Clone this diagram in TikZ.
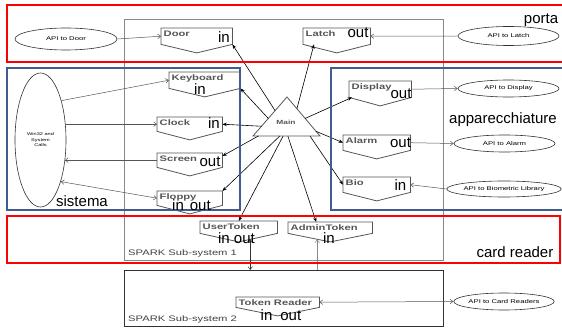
\documentclass[tikz,border=0pt]{standalone}
\usepackage{fontspec}
\setmainfont{Liberation Sans}
\usetikzlibrary{shapes.geometric,arrows.meta,calc}

\definecolor{rosso}{HTML}{FF0000}
\definecolor{blu}{HTML}{3F5E8F}
\definecolor{grigio}{HTML}{8A8A8A}
\definecolor{scuro}{HTML}{555555}

% 横向拉伸的小字
\newcommand{\allarga}[1]{\scalebox{1.4}[1]{#1}}

\tikzset{
  modulo/.style n args={2}{rectangle, inner sep=0pt, anchor=north west,
    minimum width=#1, label={[nome]north west:\allarga{#2}}},
  nome/.style={anchor=north west, inner sep=2.5pt, text=scuro,
    font=\bfseries\fontsize{8}{9}\selectfont},
  bordo/.style={draw=scuro, line width=0.8pt},
  api/.style={ellipse, draw=black!80, line width=0.6pt, inner sep=0pt,
    font=\fontsize{5.5}{6}\selectfont},
  freccia/.style={draw=black, line width=0.6pt, -{Stealth[length=4.5pt,width=3.5pt]}},
  chiamata/.style={draw=scuro, line width=0.5pt, -{Straight Barb[length=3pt,width=4.5pt]}},
  io/.style={inner sep=0pt, font=\fontsize{15}{15}\selectfont},
  zona/.style={inner sep=0pt, font=\fontsize{15}{15}\selectfont}
}

\begin{document}
\begin{tikzpicture}[x=1pt, y=-1pt]
  \useasboundingbox (0,0) rectangle (562,331);

  % 两个子系统的外框
  \node[draw=grigio, line width=0.8pt, anchor=north west, inner sep=0pt,
        minimum width=319pt, minimum height=241pt] (sub1) at (124,19) {};
  \node[draw=black!80, line width=0.8pt, anchor=north west, inner sep=0pt,
        minimum width=319pt, minimum height=56pt] (sub2) at (124,270) {};
  \node[anchor=west, inner sep=0pt, text=black!75, font=\fontsize{8}{9}\selectfont]
        (sub1-t) at (128,253) {\allarga{SPARK Sub-system 1}};
  \node[anchor=west, inner sep=0pt, text=black!75, font=\fontsize{8}{9}\selectfont]
        (sub2-t) at (128,319) {\allarga{SPARK Sub-system 2}};

  % 各个模块
  \node[modulo={71pt}{Door}, minimum height=16pt] (door) at (161,28) {};
  \node[modulo={67pt}{Latch}, minimum height=16pt] (latch) at (303,28) {};
  \node[modulo={71pt}{Keyboard}, minimum height=16pt] (keyboard) at (169,72) {};
  \node[modulo={65pt}{Clock}, minimum height=14pt] (clock) at (157,117) {};
  \node[modulo={65pt}{Screen}, minimum height=14pt] (screen) at (157,153) {};
  \node[modulo={65pt}{Floppy}, minimum height=14pt] (floppy) at (157,191) {};
  \node[modulo={62pt}{Display}, minimum height=16pt] (display) at (349,81) {};
  \node[modulo={67pt}{Alarm}, minimum height=15pt] (alarm) at (343,135) {};
  \node[modulo={67pt}{Bio}, minimum height=15pt] (bio) at (343,177) {};
  \node[modulo={77pt}{UserToken}, minimum height=12pt] (usertoken) at (200,221) {};
  \node[modulo={84pt}{AdminToken}, minimum height=11pt] (admintoken) at (288,222) {};
  \node[modulo={83pt}{Token Reader}, minimum height=10pt] (tokenreader) at (236,297) {};
  \foreach \m in {door,latch,keyboard,clock,screen,floppy,display,alarm,bio,
                  usertoken,admintoken,tokenreader}
    \draw[bordo] (\m.north west) -- (\m.north east) -- (\m.south east)
      -- ([yshift=-8.5pt]\m.south) -- (\m.south west) -- cycle;

  % Main 三角形
  \coordinate (mtop) at (287,97);
  \coordinate (mleft) at (253,136);
  \coordinate (mright) at (320,136);
  \draw[bordo] (mtop) -- (mright) -- (mleft) -- cycle;
  \node[inner sep=0pt, text=scuro, font=\bfseries\fontsize{6}{7}\selectfont]
        (main) at (286,122) {\allarga{Main}};

  % 外部接口
  \node[api, minimum width=102pt, minimum height=22pt] (apidoor) at (66,39) {\allarga{API to Door}};
  \node[api, minimum width=101pt, minimum height=19pt] (apilatch) at (508.5,36) {\allarga{API to Latch}};
  \node[api, minimum width=101pt, minimum height=17pt] (apidisplay) at (508.5,88.5) {\allarga{API to Display}};
  \node[api, minimum width=101pt, minimum height=17pt] (apialarm) at (504.5,143.5) {\allarga{API to Alarm}};
  \node[api, minimum width=100pt, minimum height=16pt] (apibio) at (504,189) {\allarga{API to Biometric Library}};
  \node[api, minimum width=100pt, minimum height=17pt] (apicard) at (504,301.5) {\allarga{API to Card Readers}};
  \node[api, minimum width=51pt, minimum height=134pt, align=center,
        font=\fontsize{4}{5.5}\selectfont] (win32) at (40.5,140)
        {\allarga{Win32 and}\\\allarga{System}\\\allarga{Calls}};

  % 模块与外部接口之间的调用
  \draw[chiamata] (apidoor.east) -- (door.west);
  \draw[chiamata] (apilatch.west) -- (latch.east);
  \draw[chiamata] (win32.62) -- (keyboard.west);
  \draw[chiamata] (clock.west -| win32.east) -- (clock.west);
  \draw[chiamata] (screen.west) -- ([xshift=-1.5pt]screen.west -| win32.east);
  \draw[chiamata, {Straight Barb[length=3pt,width=4.5pt]}-{Straight Barb[length=3pt,width=4.5pt]}]
        (win32.-64) -- (floppy.west);
  \draw[chiamata] (display.east) -- (apidisplay.west);
  \draw[chiamata] (alarm.east) -- (apialarm.west);
  \draw[chiamata] (apibio.west) -- (bio.east);
  \draw[chiamata, {Straight Barb[length=3pt,width=4.5pt]}-{Straight Barb[length=3pt,width=4.5pt]}]
        (tokenreader.east) -- (apicard.west);

  % 子系统之间
  \coordinate (ut-in) at ([xshift=11.5pt,yshift=-6pt]usertoken.south);
  \coordinate (at-in) at ([xshift=-13pt,yshift=-6pt]admintoken.south);
  \draw[chiamata, draw=black!80, {Straight Barb[length=3pt,width=4.5pt]}-{Straight Barb[length=3pt,width=4.5pt]}]
        (ut-in) -- (ut-in |- sub2.north);
  \draw[chiamata, draw=grigio] (at-in |- sub2.north) -- (at-in);

  % Main 到各模块
  \draw[freccia] ($(mleft)!.65!(mtop)$) -- (door.south east);
  \draw[freccia] ($(mright)!.7!(mtop)$) -- ([xshift=11pt]latch.south west);
  \draw[freccia] ($(mleft)!.45!(mtop)$) -- (keyboard.south east);
  \draw[freccia] ($(mleft)!.25!(mtop)$) -- (clock.east);
  \draw[freccia] ($(mleft)!.08!(mright)$) -- ([yshift=-3pt]screen.north east);
  \draw[freccia] ($(mleft)!.4!(mright)$) -- (floppy.north east);
  \draw[freccia] ($(mleft)!.45!(mright)$) -- (usertoken.north);
  \draw[freccia] ($(mleft)!.52!(mright)$) -- ([xshift=-14pt]admintoken.north);
  \draw[freccia] ($(mleft)!.85!(mright)$) -- (bio.west);
  \draw[freccia] ($(mright)!.12!(mtop)$) -- (alarm.west);
  \draw[freccia] ($(mright)!.45!(mtop)$) -- ([xshift=3pt]display.south west);

  % 分区框
  \draw[rosso, line width=2pt] (7,5) rectangle (566,62);
  \draw[blu, line width=1.6pt] (7,68) rectangle (240,210);
  \draw[blu, line width=1.6pt] (331,68) rectangle (566,210);
  \draw[rosso, line width=2pt] (7,216) rectangle (560,263);

  % 分区名称
  \node[zona] (porta) at (541,20) {porta};
  \node[zona] (apparecchiature) at (503,120) {apparecchiature};
  \node[zona] (sistema) at (82,201) {sistema};
  \node[zona] (cardreader) at (515,252) {card reader};

  % 输入输出标记
  \node[io] (door-io) at (224,37) {in};
  \node[io] (latch-io) at (358,33) {out};
  \node[io] (keyboard-io) at (200,89) {in};
  \node[io] (clock-io) at (214,123) {in};
  \node[io] (screen-io) at (210,162) {out};
  \node[io] (floppy-io) at (191.5,205) {in\hspace{6pt}out};
  \node[io] (display-io) at (401,94) {out};
  \node[io] (alarm-io) at (400.5,143) {out};
  \node[io] (bio-io) at (400.5,185) {in};
  \node[io] (usertoken-io) at (236.5,238) {in out};
  \node[io] (admintoken-io) at (329,238) {in};
  \node[io] (tokenreader-io) at (281,315) {in\hspace{8pt}out};
\end{tikzpicture}
\end{document}
